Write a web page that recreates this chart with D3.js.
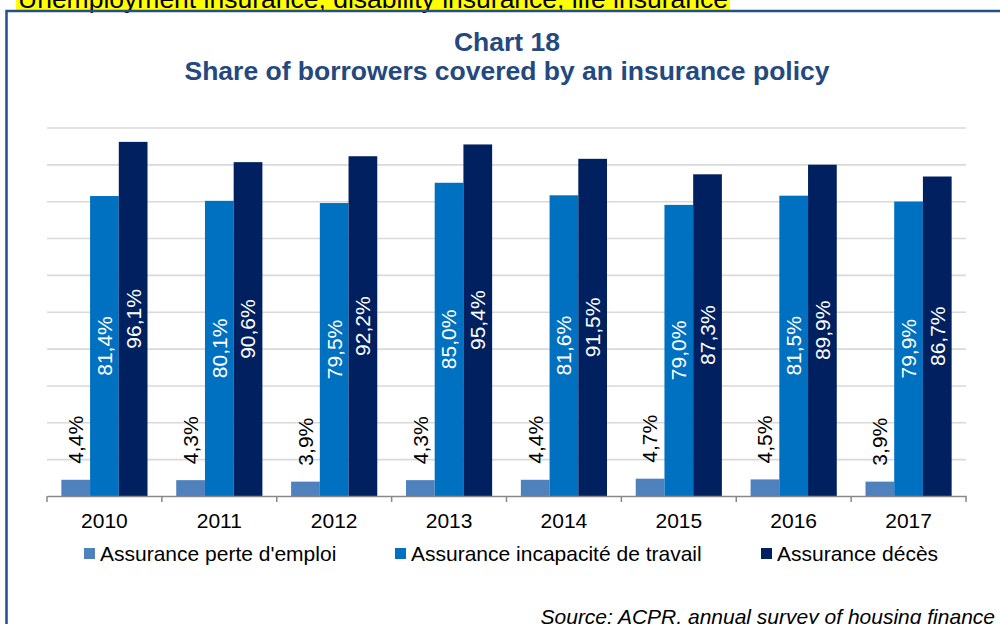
<!DOCTYPE html>
<html>
<head>
<meta charset="utf-8">
<script src="https://cdn.jsdelivr.net/npm/d3@7"></script>
<style>
  html, body { margin: 0; padding: 0; background: #fff; }
  svg { display: block; font-family: "Liberation Sans", Arial, sans-serif; }
</style>
</head>
<body>
<svg id="chart" width="1000" height="624"></svg>
<script>
// Years on the category axis
const years = ["2010", "2011", "2012", "2013", "2014", "2015", "2016", "2017"];
// Series names (legend order)
const seriesNames = ["Assurance perte d'emploi", "Assurance incapacité de travail", "Assurance décès"];
// Share of borrowers (%) per series
const perteEmploi = [4.4, 4.3, 3.9, 4.3, 4.4, 4.7, 4.5, 3.9];
const incapacite = [81.4, 80.1, 79.5, 85.0, 81.6, 79.0, 81.5, 79.9];
const deces = [96.1, 90.6, 92.2, 95.4, 91.5, 87.3, 89.9, 86.7];
// Gridline levels
const gridTicks = [10, 20, 30, 40, 50, 60, 70, 80, 90, 100];

const seriesValues = [perteEmploi, incapacite, deces];
const colors = ["#4f81bd", "#0070c0", "#002060"];
const titleColor = "#23497e";

const svg = d3.select("#chart");

// Highlighted heading running off the top edge
const head = svg.append("g");
const headText = head.append("text")
  .attr("x", 18).attr("y", 7.5)
  .attr("font-size", 26.5)
  .attr("fill", "#000")
  .text("Unemployment insurance, disability insurance, life insurance");
const hb = headText.node().getBBox();
head.insert("rect", "text")
  .attr("x", 16).attr("y", 0)
  .attr("width", hb.width + 4).attr("height", 10)
  .attr("fill", "#ffff00");

// Frame around the chart
svg.append("rect")
  .attr("x", 6.5).attr("y", 11)
  .attr("width", 1100).attr("height", 700)
  .attr("fill", "none")
  .attr("stroke", "#24508a")
  .attr("stroke-width", 2.5);

// Titles
svg.append("text")
  .attr("x", 507).attr("y", 51)
  .attr("text-anchor", "middle")
  .attr("font-size", 26.5).attr("font-weight", "bold")
  .attr("fill", titleColor)
  .text("Chart 18");
svg.append("text")
  .attr("x", 507).attr("y", 80)
  .attr("text-anchor", "middle")
  .attr("font-size", 26.5).attr("font-weight", "bold")
  .attr("fill", titleColor)
  .text("Share of borrowers covered by an insurance policy");

// Scales
const x0 = d3.scaleBand().domain(years).range([47, 966]).paddingInner(0).paddingOuter(0);
const bw = x0.bandwidth();
const x1 = d3.scaleBand().domain(d3.range(seriesNames.length))
  .range([bw * 0.125, bw * 0.875]).padding(0);
const y = d3.scaleLinear().domain([0, 100]).range([496, 127.5]);

// Gridlines
svg.append("g")
  .attr("transform", `translate(47,0)`)
  .call(d3.axisLeft(y).tickValues(gridTicks).tickSize(-(966 - 47)).tickFormat(""))
  .call(g => g.select(".domain").remove())
  .call(g => g.selectAll(".tick line").attr("stroke", "#d9d9d9").attr("stroke-width", 1.6));

// Bars
const fmt = v => d3.format(".1f")(v).replace(".", ",") + "%";
const groups = svg.append("g").selectAll("g")
  .data(years)
  .join("g")
  .attr("transform", d => `translate(${x0(d)},0)`);

seriesValues.forEach((vals, si) => {
  groups.append("rect")
    .attr("x", x1(si))
    .attr("width", x1.bandwidth())
    .attr("y", (d, i) => y(vals[i]))
    .attr("height", (d, i) => y(0) - y(vals[i]))
    .attr("fill", colors[si]);
});

// Value labels, rotated to read upward
seriesValues.forEach((vals, si) => {
  groups.append("text")
    .attr("transform", (d, i) => {
      const cx = x1(si) + x1.bandwidth() / 2;
      const cy = si === 0 ? y(vals[i]) - 16 : (y(vals[i]) + y(0)) / 2;
      return `translate(${cx},${cy}) rotate(-90)`;
    })
    .attr("text-anchor", si === 0 ? "start" : "middle")
    .attr("dy", "0.35em")
    .attr("font-size", 21)
    .attr("fill", si === 0 ? "#000" : "#fff")
    .text((d, i) => fmt(vals[i]));
});

// Category axis
const xAxis = svg.append("g")
  .attr("transform", `translate(0,496)`)
  .call(d3.axisBottom(x0).tickSize(0).tickPadding(0));
xAxis.select(".domain").attr("stroke", "#898989").attr("stroke-width", 1.5);
xAxis.selectAll(".tick text")
  .attr("font-family", "Liberation Sans, Arial, sans-serif")
  .attr("font-size", 21).attr("fill", "#000")
  .attr("dy", 0).attr("y", 32);
// Boundary tick marks between categories
const boundaries = years.map(d => x0(d)).concat([x0(years[years.length - 1]) + bw]);
svg.append("g").selectAll("line")
  .data(boundaries)
  .join("line")
  .attr("x1", d => d).attr("x2", d => d)
  .attr("y1", 496).attr("y2", 502)
  .attr("stroke", "#898989").attr("stroke-width", 1.5);

// Legend
const legendX = [84, 395, 761];
const legend = svg.append("g").selectAll("g")
  .data(seriesNames)
  .join("g")
  .attr("transform", (d, i) => `translate(${legendX[i]},548)`);
legend.append("rect")
  .attr("width", 11).attr("height", 11)
  .attr("fill", (d, i) => colors[i]);
legend.append("text")
  .attr("x", 16).attr("y", 12.5)
  .attr("font-size", 21).attr("fill", "#000")
  .text(d => d);

// Source note
svg.append("text")
  .attr("x", 995).attr("y", 624)
  .attr("text-anchor", "end")
  .attr("font-size", 21).attr("font-style", "italic")
  .attr("fill", "#000")
  .text("Source: ACPR, annual survey of housing finance");
</script>
</body>
</html>
